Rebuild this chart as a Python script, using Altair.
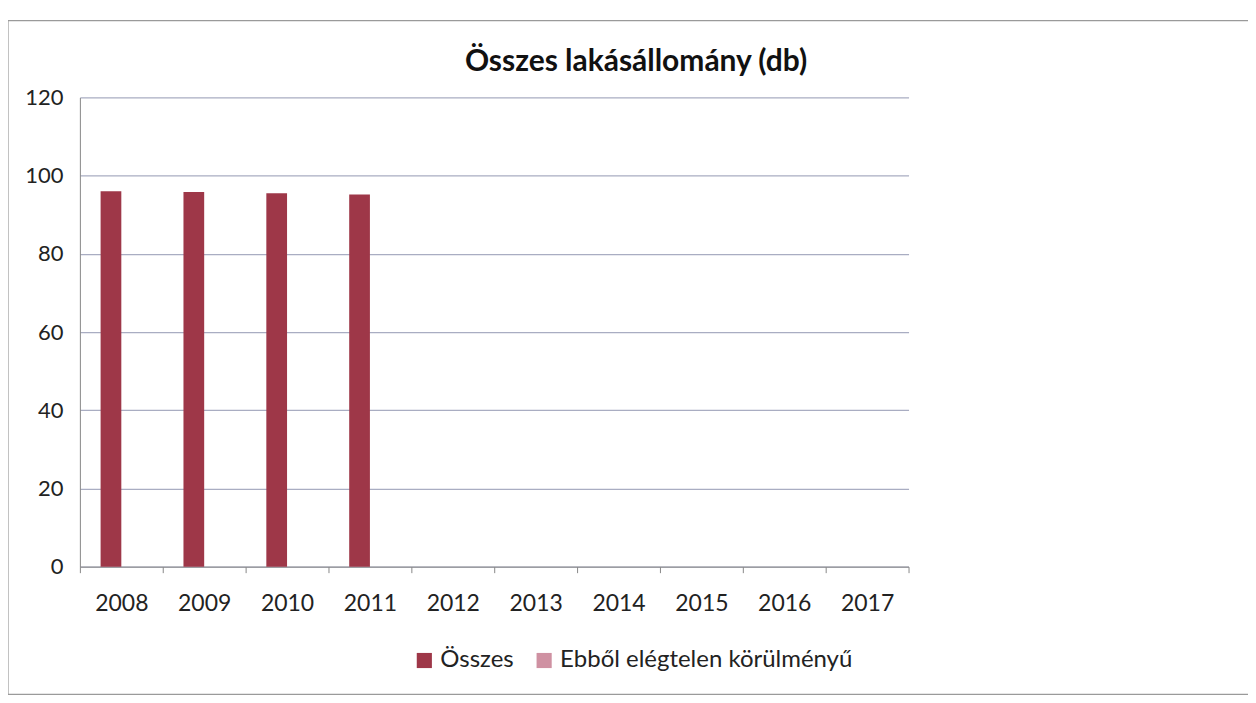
import altair as alt
import pandas as pd

years = ["2008", "2009", "2010", "2011", "2012", "2013", "2014", "2015", "2016", "2017"]
osszes = [96, 95.8, 95.5, 95.2, None, None, None, None, None, None]
elegtelen = [None] * 10
series_names = ["Összes", "Ebből elégtelen körülményű"]
colors = ["#9e3748", "#cf91a2"]
title_text = "Összes lakásállomány (db)"

rows = []
for y, a, b in zip(years, osszes, elegtelen):
    rows.append({"ev": y, "sorozat": series_names[0], "db": a})
    rows.append({"ev": y, "sorozat": series_names[1], "db": b})
df = pd.DataFrame(rows)

FONT = "Lato"
W, H = 830, 470

bars = alt.Chart(df).mark_bar().encode(
    x=alt.X("ev:N", sort=years, title=None,
            scale=alt.Scale(paddingInner=0, paddingOuter=0),
            axis=alt.Axis(labelAngle=0, labelFontSize=23, labelColor="#222",
                          labelPadding=20, domainColor="#888", tickColor="#888",
                          tickBand="extent", tickSize=6, grid=False)),
    xOffset=alt.XOffset("sorozat:N", sort=series_names,
                        scale=alt.Scale(paddingInner=0, paddingOuter=1.0)),
    y=alt.Y("db:Q", title=None,
            scale=alt.Scale(domain=[0, 120]),
            axis=alt.Axis(values=[0, 20, 40, 60, 80, 100, 120], labelFontSize=22,
                          labelColor="#222", labelPadding=17, domain=True,
                          domainColor="#888", ticks=False, gridColor="#a9adc2",
                          gridWidth=1.2)),
    color=alt.Color("sorozat:N", sort=series_names,
                    scale=alt.Scale(domain=series_names, range=colors),
                    legend=alt.Legend(title=None, orient="none", direction="horizontal",
                                      legendX=333, legendY=552, symbolType="square",
                                      symbolSize=230, labelFontSize=24, labelColor="#222",
                                      labelLimit=600, columnPadding=18, symbolOpacity=1)),
)

title = alt.Chart(pd.DataFrame({"t": [title_text]})).mark_text(
    fontSize=30, fontWeight="bold", font=FONT, color="#111", align="center", baseline="middle"
).encode(x=alt.value(557), y=alt.value(-35), text="t:N")

frame = alt.Chart(pd.DataFrame({"k": [0]})).mark_rect(
    fill=None, stroke="#9a9a9a", strokeWidth=1.2
).encode(
    x=alt.value(-72), x2=alt.value(1240), y=alt.value(-77), y2=alt.value(598)
)

chart = alt.layer(frame, bars, title).properties(
    width=W, height=H,
    autosize=alt.AutoSizeParams(type="none"),
    padding={"left": 72, "top": 89, "right": 340, "bottom": 133},
).configure(font=FONT).configure_view(stroke=None)

chart.save("out.html", embed_options={"renderer": "svg", "actions": False})
